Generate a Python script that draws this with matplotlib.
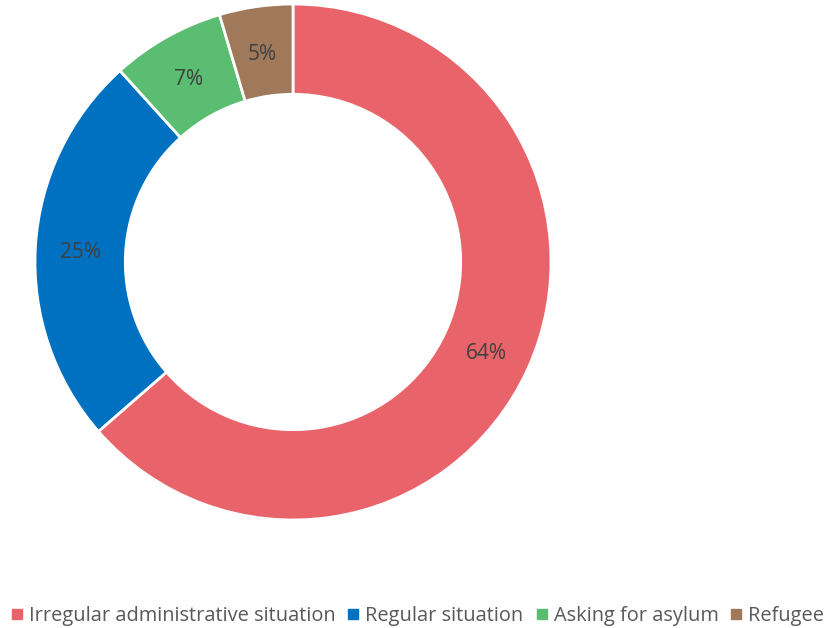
import matplotlib.pyplot as plt
from matplotlib.lines import Line2D
import numpy as np

plt.rcParams['font.family'] = ['Open Sans', 'DejaVu Sans']

categories = ['Irregular administrative situation', 'Regular situation', 'Asking for asylum', 'Refugee']
shares = [63.6, 24.7, 7.1, 4.6]
labels = ['64%', '25%', '7%', '5%']
colors = ['#E8646A', '#0070C0', '#5BBD72', '#A0785A']

W, H = 827, 628
fig = plt.figure(figsize=(W / 100, H / 100), dpi=100)

# pie centre ~ (293, 262) px from top-left, outer radius ~258 px
cx, cy, r = 293, 262, 258
ax = fig.add_axes([(cx - r) / W, (H - cy - r) / H, 2 * r / W, 2 * r / H])

wedges, _ = ax.pie(shares, colors=colors, startangle=90, counterclock=False,
                   radius=1, wedgeprops=dict(width=0.35, edgecolor='white', linewidth=2))
ax.set_xlim(-1, 1)
ax.set_ylim(-1, 1)
ax.axis('off')

total = sum(shares)
start = 90
for w, s, lab in zip(wedges, shares, labels):
    mid = np.deg2rad(start - s / total * 360 / 2)
    start -= s / total * 360
    ax.text(0.825 * np.cos(mid), 0.825 * np.sin(mid) - 0.012, lab, ha='center', va='center',
            fontsize=15, color='#404040')

handles = [Line2D([], [], marker='s', linestyle='none', markersize=7, color=c) for c in colors]
fig.legend(handles, categories, loc='center', bbox_to_anchor=(0.505, 1 - 616 / H), ncol=4,
           frameon=False, fontsize=14.4, labelcolor='#595959', handlelength=0.6,
           handletextpad=0.3, columnspacing=0.6, borderaxespad=0)

fig.savefig('out.png', dpi=100)
